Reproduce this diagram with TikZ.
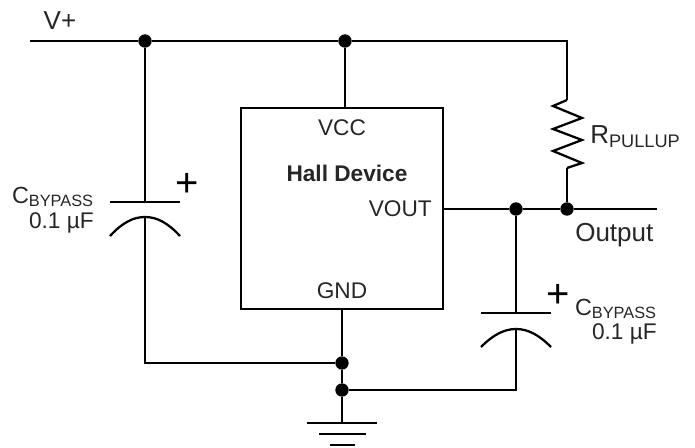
\documentclass[tikz,border=0pt]{standalone}
\usepackage{fontspec}
\setmainfont{Liberation Sans}
\tikzset{
  wire/.style={line width=1.7pt},
  junction/.style={circle,fill=black,inner sep=0pt,minimum size=10pt},
  device/.style={draw,line width=1.9pt,inner sep=0pt,minimum width=151.5pt,minimum height=150.75pt},
  lbl/.style={inner sep=0pt,font=\fontsize{17}{20}\selectfont,text=black!85},
  biglbl/.style={inner sep=0pt,font=\fontsize{19.5}{22}\selectfont,text=black!85},
  caplbl/.style={inner sep=0pt,font=\fontsize{17.5}{20}\selectfont,text=black!85},
  pluslbl/.style={inner sep=0pt,font=\fontsize{30}{30}\selectfont},
}
\begin{document}
\begin{tikzpicture}[x=0.75pt,y=0.75pt,yscale=-1,xscale=1]
\useasboundingbox (0,0) rectangle (695,448);

% device
\node[device] (hall) at (342,208.5) {};
\coordinate (vin) at (30,41);
\node[junction] (jleft) at (145,41) {};
\node[junction] (jvcc) at (345,41) {};
\coordinate (corner) at (567,41);
\coordinate (vccpin) at (345,108);
\coordinate (gndpin) at (342,309);
\coordinate (voutpin) at (443,209);
\node[junction] (jcap) at (516,209) {};
\node[junction] (jout) at (567,209) {};
\coordinate (outend) at (657,209);
\node[junction] (jbot) at (342,363) {};
\node[junction] (jgnd) at (342,390) {};
\coordinate (gndtop) at (342,423);
\coordinate (lplate) at (145,202);
\coordinate (larc) at (145,217);
\coordinate (lcorner) at (145,363);
\coordinate (rplate) at (516,313);
\coordinate (rarc) at (516,329);
\coordinate (rcorner) at (516,390);
\coordinate (rtop) at (567,100);
\coordinate (rbot) at (567,168);

% wires
\draw[wire] (vin) -- (jleft) -- (jvcc) -- (corner) -- (rtop);
\draw[wire] (jvcc) -- (vccpin);
\draw[wire] (gndpin) -- (jbot) -- (jgnd) -- (gndtop);
\draw[wire] (voutpin) -- (jcap) -- (jout) -- (outend);
\draw[wire] (jleft) -- (lplate);
\draw[wire] (larc) -- (lcorner) -- (jbot);
\draw[wire] (jcap) -- (rplate);
\draw[wire] (rarc) -- (rcorner) -- (jgnd);
\draw[wire] (rbot) -- (jout);

% resistor
\draw[wire] (rtop) -- (553,106) -- (582,118) -- (553,129) -- (582,140) -- (553,151) -- (582,163) -- (rbot);

% left capacitor
\draw[wire] (110,202) -- (180,202);
\draw[wire] (110,236) .. controls (122,223) and (133,217) .. (larc) .. controls (157,217) and (168,223) .. (180,236);

% right capacitor
\draw[wire] (481,313) -- (551,313);
\draw[wire] (481,347) .. controls (493,335) and (504,329) .. (rarc) .. controls (528,329) and (539,335) .. (551,347);

% ground
\draw[wire] (307,423) -- (377,423);
\draw[wire] (319,434) -- (366,434);
\draw[wire] (330,445) -- (355,445);

% labels
\node[biglbl] (vplus) at (60,21) {V+};
\node[lbl] (vcc) at (342,128) {VCC};
\node[lbl] (gnd) at (342,291) {GND};
\node[lbl,anchor=east] (vout) at (432,209) {VOUT};
\node[lbl] (name) at (347,173) {\textbf{Hall Device}};
\node[biglbl,anchor=west] (rname) at (590,137) {R\textsubscript{PULLUP}};
\node[biglbl,anchor=west] (output) at (575,235) {Output};
\node[caplbl,anchor=east] (cleft) at (94,197) {C\textsubscript{BYPASS}};
\node[lbl,anchor=east] (cleftval) at (94,223) {0.1 µF};
\node[caplbl,anchor=east] (cright) at (657,309) {C\textsubscript{BYPASS}};
\node[lbl,anchor=east] (crightval) at (657,334) {0.1 µF};
\node[pluslbl] (lplus) at (187,185) {+};
\node[pluslbl] (rplus) at (558,296) {+};
\end{tikzpicture}
\end{document}
